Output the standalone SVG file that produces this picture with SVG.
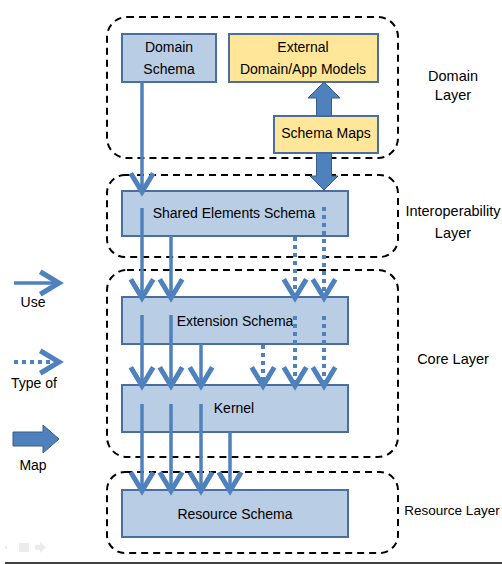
<svg xmlns="http://www.w3.org/2000/svg" width="502" height="564" viewBox="0 0 502 564">
  <style>
    .layer { fill: none; stroke: #000; stroke-width: 2; stroke-dasharray: 7 5; }
    .blue { fill: #B9CDE5; stroke: #4A6E9F; stroke-width: 2; }
    .yellow { fill: #FFE699; stroke: #4A6E9F; stroke-width: 2; }
    .lbl { font-family: "Liberation Sans", Arial, sans-serif; font-size: 14px; fill: #000; text-anchor: middle; }
    .llbl { font-family: "Liberation Sans", Arial, sans-serif; font-size: 14.5px; fill: #000; text-anchor: middle; }
    .use { stroke: #4F81BD; stroke-width: 3.5; fill: none; marker-end: url(#vhead); }
    .typeof { stroke: #4F81BD; stroke-width: 4; fill: none; stroke-dasharray: 4 4; marker-end: url(#vhead); }
    .map { fill: #4F81BD; stroke: #385D8A; stroke-width: 1; }
  </style>
  <defs>
    <marker id="vhead" markerUnits="userSpaceOnUse" markerWidth="30" markerHeight="30" viewBox="-20 -12 24 24" refX="-4" refY="0" orient="auto" overflow="visible">
      <path d="M-15,-9 L0,0 L-15,9" fill="none" stroke="#4F81BD" stroke-width="4" stroke-dasharray="none" stroke-linejoin="miter"/>
    </marker>
  </defs>

  <rect width="502" height="564" fill="#fff"/>

  <!-- layer frames -->
  <g id="layers">
    <rect class="layer" x="107" y="17" width="291" height="141" rx="20"/>
    <rect class="layer" x="107" y="175" width="291" height="82" rx="18"/>
    <rect class="layer" x="107" y="270" width="291" height="187" rx="20"/>
    <rect class="layer" x="107" y="472" width="291" height="81" rx="18"/>
  </g>

  <g id="layer-labels">
    <text class="llbl" x="453" y="81">Domain</text>
    <text class="llbl" x="453" y="100">Layer</text>
    <text class="llbl" x="453" y="216">Interoperability</text>
    <text class="llbl" x="453" y="238">Layer</text>
    <text class="llbl" x="453" y="364">Core Layer</text>
    <text class="llbl" x="452" y="515" style="font-size:13.5px">Resource Layer</text>
  </g>

  <!-- nodes -->
  <g id="domain-schema">
    <rect class="blue" x="122" y="34" width="94" height="48"/>
    <text class="lbl" x="169" y="52">Domain</text>
    <text class="lbl" x="169" y="74">Schema</text>
  </g>
  <g id="external-models">
    <rect class="yellow" x="229" y="34" width="149" height="48"/>
    <text class="lbl" x="303" y="52">External</text>
    <text class="lbl" x="303" y="74">Domain/App Models</text>
  </g>
  <g id="schema-maps">
    <rect class="yellow" x="274" y="116" width="104" height="37"/>
    <text class="lbl" x="326" y="138">Schema Maps</text>
  </g>
  <g id="shared-elements">
    <rect class="blue" x="122" y="191" width="226" height="45"/>
    <text class="lbl" x="234" y="218">Shared Elements Schema</text>
  </g>
  <g id="extension-schema">
    <rect class="blue" x="122" y="297" width="226" height="47"/>
    <text class="lbl" x="235" y="326">Extension Schema</text>
  </g>
  <g id="kernel">
    <rect class="blue" x="122" y="385" width="226" height="47"/>
    <text class="lbl" x="234" y="413">Kernel</text>
  </g>
  <g id="resource-schema">
    <rect class="blue" x="122" y="490" width="226" height="47"/>
    <text class="lbl" x="235" y="519">Resource Schema</text>
  </g>

  <!-- connectors -->
  <g id="connectors">
    <!-- use -->
    <line class="use" x1="142" y1="82" x2="142" y2="187"/>
    <line class="use" x1="142" y1="208" x2="142" y2="293"/>
    <line class="use" x1="171" y1="236" x2="171" y2="293"/>
    <line class="use" x1="142" y1="315" x2="142" y2="381"/>
    <line class="use" x1="171" y1="315" x2="171" y2="381"/>
    <line class="use" x1="201" y1="344" x2="201" y2="381"/>
    <line class="use" x1="142" y1="404" x2="142" y2="486"/>
    <line class="use" x1="171" y1="404" x2="171" y2="486"/>
    <line class="use" x1="201" y1="404" x2="201" y2="486"/>
    <line class="use" x1="230" y1="432" x2="230" y2="486"/>
    <!-- type of -->
    <line class="typeof" x1="324" y1="207" x2="324" y2="293"/>
    <line class="typeof" x1="295" y1="237" x2="295" y2="293"/>
    <line class="typeof" x1="295" y1="316" x2="295" y2="381"/>
    <line class="typeof" x1="324" y1="316" x2="324" y2="381"/>
    <line class="typeof" x1="263" y1="345" x2="263" y2="381"/>
    <!-- map -->
    <polygon class="map" points="324,82 340,98 331.5,98 331.5,116 316.5,116 316.5,98 308,98"/>
    <polygon class="map" points="316.5,153 331.5,153 331.5,176 338,176 324,190 310,176 316.5,176"/>
  </g>

  <!-- legend -->
  <g id="legend">
    <line class="use" x1="14" y1="283" x2="54" y2="283"/>
    <text class="lbl" x="33" y="307">Use</text>
    <line class="typeof" x1="14" y1="362" x2="54" y2="362"/>
    <text class="lbl" x="34" y="388">Type of</text>
    <polygon class="map" points="13,432 43,432 43,425 59,439 43,453 43,446 13,446"/>
    <text class="lbl" x="33" y="470">Map</text>
  </g>

  <!-- faint slide controls -->
  <g id="controls" fill="#ececec">
    <rect x="5" y="546" width="2" height="3"/>
    <rect x="19" y="543" width="10" height="9"/>
    <path d="M35,545 h5 v-3 l6,5.5 l-6,5.5 v-3 h-5 z"/>
  </g>

  <line x1="5" y1="563" x2="502" y2="563" stroke="#404040" stroke-width="2"/>
</svg>
